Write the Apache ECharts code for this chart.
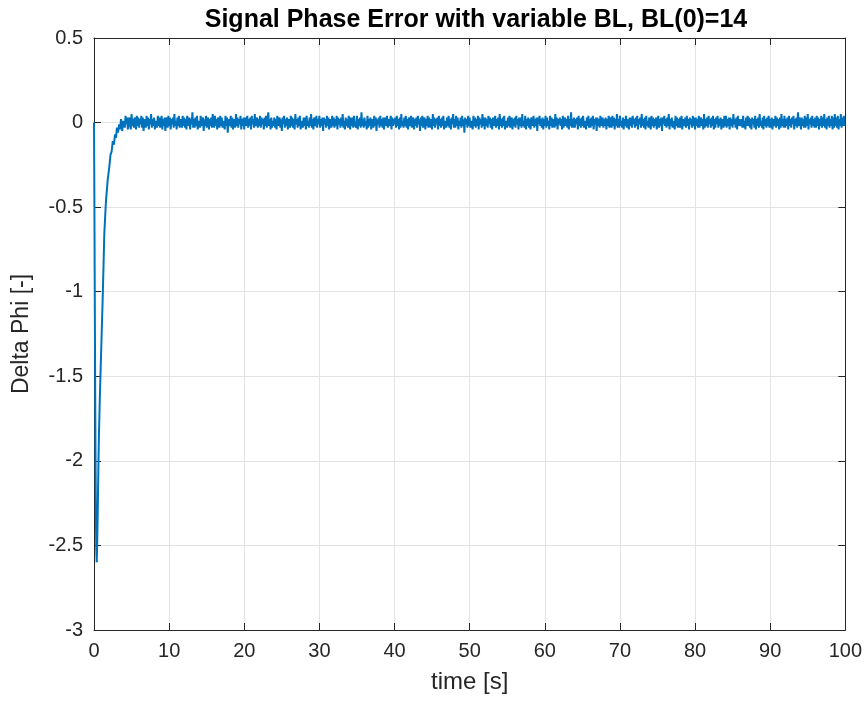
<!DOCTYPE html>
<html>
<head>
<meta charset="utf-8">
<script src="https://cdn.jsdelivr.net/npm/echarts@6/dist/echarts.min.js"></script>
<style>html,body{margin:0;padding:0;background:#fff}#c{width:865px;height:701px}</style>
</head>
<body>
<div id="c"></div>
<script>
// Tick values
const xTicks = [0,10,20,30,40,50,60,70,80,90,100];
const yTicks = [-3,-2.5,-2,-1.5,-1,-0.5,0,0.5];

// Transient part (time [s], Delta Phi)
const transientTime  = [0, 0.05, 0.1, 0.15, 0.2, 0.25, 0.3, 0.36, 0.42, 0.5, 0.58, 0.66, 0.78, 0.89, 1.02, 1.15, 1.26, 1.37, 1.48, 1.6, 1.82, 2.04, 2.2, 2.35, 2.5, 2.65, 2.8, 2.93, 3.05, 3.2, 3.35, 3.46, 3.6, 3.75, 3.9];
const transientValue = [0, -0.45, -1.0, -1.5, -1.95, -2.3, -2.52, -2.6, -2.5, -2.3, -2.05, -1.84, -1.62, -1.45, -1.25, -1.05, -0.86, -0.66, -0.56, -0.46, -0.34, -0.26, -0.19, -0.17, -0.11, -0.13, -0.07, -0.09, -0.03, -0.06, -0.01, -0.04, 0.02, -0.05, 0.01];

// Steady-state noisy part: sample start, sample step, values
const noiseStart = 4.0;
const noiseStep = 0.1;
const noiseValue = [
0.02,-0.03,0.04,-0.01,0.03,-0.04,0.01,0.03,-0.02,-0.04,0.05,-0.02,0.02,-0.03,0.03,0.00,-0.04,0.04,-0.02,0.03,
-0.03,0.02,-0.01,0.04,-0.03,0.03,-0.05,0.02,0.01,-0.03,0.04,-0.02,0.03,-0.04,0.02,-0.01,0.05,-0.03,0.02,-0.02,
0.03,-0.04,0.01,0.02,-0.03,0.04,-0.02,0.03,-0.03,0.00,0.04,-0.04,0.02,-0.02,0.03,-0.05,0.03,0.01,-0.03,0.04,
-0.02,0.03,-0.04,0.02,-0.01,0.03,-0.03,0.05,-0.02,0.01,-0.04,0.03,-0.02,0.04,-0.03,0.02,0.00,-0.03,0.04,-0.02,
0.03,-0.03,0.02,-0.04,0.04,0.01,-0.02,0.03,-0.04,0.02,-0.01,0.06,-0.03,0.02,-0.03,0.03,-0.02,0.04,-0.04,0.01,
0.02,-0.03,0.04,-0.02,0.00,0.03,-0.05,0.02,-0.02,0.04,-0.03,0.01,0.03,-0.04,0.02,-0.02,0.03,-0.03,0.05,-0.01,
-0.03,0.04,-0.02,0.02,-0.04,0.03,0.00,-0.03,0.04,-0.02,0.03,-0.03,0.01,0.02,-0.04,0.04,-0.02,0.03,-0.06,0.02,
0.01,-0.02,0.04,-0.03,0.03,-0.04,0.02,0.00,-0.03,0.05,-0.02,0.03,-0.03,0.02,-0.01,0.04,-0.04,0.02,-0.02,0.03,
-0.04,0.03,-0.02,0.01,0.04,-0.03,0.02,-0.02,0.03,-0.04,0.04,-0.01,0.02,-0.03,0.05,-0.02,0.00,0.03,-0.03,0.02,
-0.02,0.04,-0.03,0.03,-0.01,0.02,-0.04,0.03,-0.02,0.04,-0.03,0.01,0.06,-0.02,0.02,-0.04,0.03,-0.03,0.01,-0.02,
0.03,-0.03,0.02,-0.04,0.04,-0.02,0.01,0.03,-0.03,0.02,-0.05,0.03,-0.01,0.04,-0.03,0.02,-0.02,0.03,-0.04,0.02,
0.00,-0.03,0.04,-0.02,0.03,-0.03,0.02,-0.04,0.05,-0.01,0.02,-0.03,0.03,-0.02,0.04,-0.04,0.01,0.02,-0.03,0.03,
-0.02,0.03,-0.04,0.04,-0.02,0.01,-0.03,0.03,-0.02,0.05,-0.03,0.02,-0.04,0.03,0.00,-0.02,0.04,-0.03,0.02,-0.01,
0.04,-0.03,0.02,-0.02,0.03,-0.05,0.03,-0.01,0.02,-0.03,0.04,-0.02,0.03,-0.04,0.02,0.01,-0.03,0.04,-0.02,0.03,
-0.03,0.02,-0.02,0.04,-0.04,0.03,-0.01,0.02,-0.03,0.03,-0.02,0.05,-0.03,0.01,-0.04,0.03,-0.02,0.02,-0.03,0.04,
0.01,-0.04,0.03,-0.02,0.03,-0.03,0.04,-0.01,0.00,-0.03,0.04,-0.04,0.02,-0.02,0.03,-0.03,0.06,-0.02,0.02,-0.03,
0.03,-0.02,0.01,-0.04,0.04,-0.03,0.02,-0.02,0.03,-0.04,0.02,0.01,-0.03,0.04,-0.02,0.03,-0.05,0.02,-0.01,0.03,
-0.03,0.04,-0.02,0.02,-0.03,0.03,-0.04,0.01,0.03,-0.02,0.04,-0.03,0.02,-0.02,0.00,0.04,-0.04,0.03,-0.02,0.02,
-0.01,0.03,-0.03,0.04,-0.02,0.02,-0.04,0.03,-0.03,0.05,-0.02,0.01,-0.03,0.03,-0.02,0.04,-0.03,0.02,-0.04,0.03,
0.02,-0.02,0.04,-0.03,0.01,0.03,-0.04,0.02,-0.02,0.03,-0.03,0.04,-0.01,0.02,-0.05,0.03,-0.02,0.04,-0.03,0.01,
0.03,-0.04,0.02,-0.02,0.04,-0.03,0.03,0.00,-0.03,0.02,-0.04,0.05,-0.02,0.03,-0.03,0.02,-0.01,0.03,-0.04,0.04,
-0.02,0.02,-0.03,0.03,-0.02,0.04,-0.04,0.01,0.02,-0.03,0.03,-0.02,0.04,-0.03,0.02,-0.04,0.03,-0.01,0.05,-0.03,
0.02,-0.03,0.04,-0.02,0.03,-0.04,0.01,-0.02,0.03,-0.03,0.04,-0.02,0.02,-0.06,0.03,-0.01,0.02,-0.03,0.04,-0.02,
0.03,-0.03,0.01,0.02,-0.04,0.04,-0.02,0.03,-0.03,0.02,-0.02,0.04,-0.04,0.03,-0.01,0.02,-0.03,0.05,-0.02,0.03,
-0.04,0.03,-0.02,0.02,-0.03,0.04,-0.01,0.03,-0.03,0.02,-0.04,0.03,-0.02,0.01,0.04,-0.03,0.02,-0.02,0.03,-0.04,
0.05,-0.02,0.02,-0.03,0.03,-0.02,0.04,-0.04,0.01,0.02,-0.03,0.03,-0.02,0.04,-0.03,0.00,0.03,-0.04,0.02,-0.02,
0.03,-0.03,0.04,-0.01,0.02,-0.04,0.03,-0.02,0.03,-0.03,0.05,-0.02,0.01,-0.03,0.04,-0.04,0.02,-0.02,0.03,-0.03,
0.02,-0.04,0.03,0.01,-0.02,0.04,-0.03,0.02,-0.02,0.03,-0.05,0.03,-0.01,0.04,-0.02,0.02,-0.03,0.03,-0.04,0.02,
-0.02,0.04,-0.03,0.03,-0.02,0.01,-0.04,0.04,-0.02,0.03,-0.03,0.02,0.00,-0.03,0.05,-0.02,0.03,-0.04,0.02,-0.01,
0.03,-0.02,0.02,-0.04,0.04,-0.03,0.01,0.03,-0.02,0.02,-0.03,0.04,-0.04,0.02,-0.02,0.06,-0.03,0.02,-0.03,0.03,
-0.03,0.02,-0.01,0.03,-0.04,0.04,-0.02,0.02,-0.03,0.03,-0.02,0.04,-0.03,0.01,0.02,-0.04,0.03,-0.02,0.04,-0.03,
0.02,-0.03,0.03,-0.02,0.04,-0.04,0.02,-0.01,0.03,-0.05,0.03,-0.02,0.02,-0.03,0.04,-0.02,0.01,0.03,-0.03,0.02,
-0.02,0.03,-0.04,0.02,-0.02,0.04,-0.03,0.03,0.00,-0.03,0.04,-0.02,0.03,-0.04,0.02,-0.02,0.05,-0.03,0.02,-0.03,
0.04,-0.02,0.01,-0.03,0.03,-0.04,0.02,-0.02,0.04,-0.03,0.02,0.01,-0.04,0.03,-0.02,0.03,-0.03,0.04,-0.01,0.02,
-0.03,0.03,-0.02,0.04,-0.04,0.02,-0.01,0.03,-0.03,0.05,-0.02,0.02,-0.03,0.03,-0.04,0.04,-0.02,0.01,-0.03,0.03,
0.02,-0.04,0.04,-0.02,0.03,-0.03,0.02,-0.02,0.03,-0.04,0.01,0.04,-0.03,0.02,-0.02,0.03,-0.05,0.03,-0.01,0.04,
-0.02,0.02,-0.03,0.03,-0.02,0.05,-0.04,0.02,-0.02,0.03,-0.03,0.01,0.02,-0.04,0.04,-0.02,0.03,-0.03,0.02,-0.03,
0.03,-0.03,0.04,-0.04,0.02,0.00,-0.02,0.03,-0.03,0.04,-0.02,0.02,-0.04,0.03,-0.01,0.02,-0.03,0.04,-0.02,0.03,
-0.04,0.03,-0.02,0.02,-0.03,0.04,-0.03,0.01,0.03,-0.02,0.02,-0.04,0.05,-0.03,0.02,-0.02,0.03,-0.03,0.04,-0.01,
0.02,-0.03,0.03,-0.02,0.04,-0.04,0.02,-0.03,0.03,-0.01,0.04,-0.03,0.02,-0.02,0.03,-0.04,0.02,0.01,-0.03,0.04,
-0.02,0.04,-0.03,0.02,-0.02,0.03,-0.04,0.03,-0.02,0.02,-0.03,0.05,-0.01,0.02,-0.03,0.03,-0.04,0.04,-0.02,0.02,
0.03,-0.02,0.02,-0.03,0.04,-0.03,0.01,-0.04,0.03,-0.02,0.04,-0.02,0.03,-0.03,0.02,-0.04,0.03,-0.01,0.02,-0.03,
0.04,-0.04,0.02,-0.02,0.03,-0.03,0.05,-0.02,0.01,-0.03,0.03,-0.04,0.04,-0.02,0.02,-0.03,0.03,-0.02,0.04,-0.03,
0.02,-0.03,0.03,-0.04,0.02,0.01,-0.02,0.04,-0.03,0.03,-0.02,0.02,-0.04,0.03,-0.03,0.05,-0.02,0.02,-0.03,0.04,
-0.03,0.02,-0.02,0.03,-0.04,0.04,-0.02,0.02,-0.03,0.03,-0.01,0.04,-0.04,0.02,-0.02,0.03,-0.03,0.06,-0.02,0.03,
0.02,-0.04,0.03,-0.02,0.02,-0.03,0.04,-0.03,0.03,-0.02,0.05,-0.04,0.02,-0.01,0.03,-0.03,0.04,-0.02,0.02,-0.03,
0.03,-0.03,0.04,-0.02,0.03,-0.04,0.02,-0.02,0.04,-0.03,0.03,-0.02,0.05,-0.03,0.02,-0.04,0.03,-0.02,0.04,-0.03,
0.02,-0.02,0.04,-0.04,0.03,-0.03,0.05,-0.02,0.03,-0.03,0.04,-0.04,0.02,-0.02,0.05,-0.03,0.03,-0.02,0.04,-0.02
];

const titleText = 'Signal Phase Error with variable BL, BL(0)=14';
const xName = 'time [s]';
const yName = 'Delta Phi [-]';

const data = [];
for (let i = 0; i < transientTime.length; i++) data.push([transientTime[i], transientValue[i]]);
for (let i = 0; i < noiseValue.length; i++) data.push([+(noiseStart + i * noiseStep).toFixed(2), noiseValue[i]]);

const FONT = '"Liberation Sans", Arial, Helvetica, sans-serif';
const AX = '#262626';

function baseAxis(pos, isX, show) {
  return {
    type: 'value',
    position: pos,
    min: isX ? xTicks[0] : yTicks[0],
    max: isX ? xTicks[xTicks.length-1] : yTicks[yTicks.length-1],
    interval: isX ? 10 : 0.5,
    axisLine: { show: true, onZero: false, lineStyle: { color: AX, width: 1 } },
    axisTick: { show: true, inside: true, length: 7, lineStyle: { color: AX, width: 1 } },
    axisLabel: { show: show, color: AX, fontFamily: FONT, fontSize: 20, margin: 11 },
    splitLine: { show: show, lineStyle: { color: '#e3e3e3', width: 1 } }
  };
}

const xb = baseAxis('bottom', true, true);
xb.name = xName; xb.nameLocation = 'middle'; xb.nameGap = 40;
xb.nameTextStyle = { color: AX, fontFamily: FONT, fontSize: 24 };
const xt = baseAxis('top', true, false);
const yl = baseAxis('left', false, true);
yl.name = yName; yl.nameLocation = 'middle'; yl.nameGap = 61; yl.nameRotate = 90;
yl.nameTextStyle = { color: AX, fontFamily: FONT, fontSize: 23 };
const yr = baseAxis('right', false, false);

const chart = echarts.init(document.getElementById('c'), null, { renderer: 'canvas' });
chart.setOption({
  animation: false,
  backgroundColor: '#ffffff',
  title: {
    text: titleText, left: 471, top: 3, textAlign: 'center',
    textStyle: { fontFamily: FONT, fontSize: 25, fontWeight: 'bold', color: '#000' }
  },
  grid: { left: 94, right: 19, top: 38, bottom: 71, containLabel: false },
  xAxis: [xb, xt],
  yAxis: [yl, yr],
  series: [{
    type: 'line', xAxisIndex: 0, yAxisIndex: 0,
    data: data, showSymbol: false, sampling: null,
    lineStyle: { color: '#0072BD', width: 2 },
    itemStyle: { color: '#0072BD' }
  }]
});
</script>
</body>
</html>
